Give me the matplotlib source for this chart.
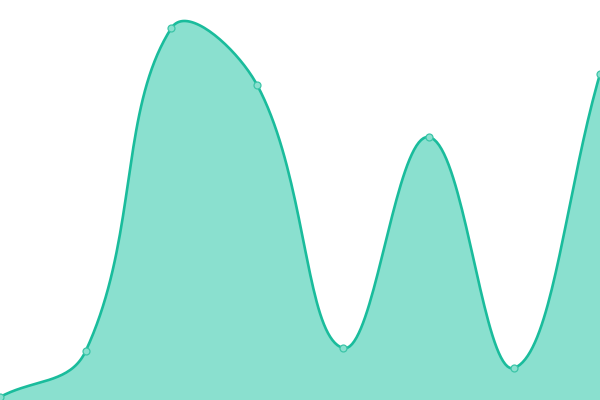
import numpy as np
import matplotlib
matplotlib.use("Agg")
import matplotlib.pyplot as plt

# -----------------------------------------------------------
#   Dados
# -----------------------------------------------------------
categorias = [0, 1, 2, 3, 4, 5, 6, 7]
valores = [3, 49, 372, 315, 52, 263, 32, 326]

LINHA = "#1abc9c"
AREA = "#8ae0cf"
SMOOTH = 0.4

W, H = 600, 400
x_max, y_max = 7, 400


def curva_suave(xs, ys, smooth, n=40):
    # suavizacao tipo echarts (bezier com controle proporcional aos segmentos)
    # feita em pixels para as distancias fazerem sentido
    px = np.array(xs, float) * W / x_max
    py = np.array(ys, float) * H / y_max
    m = len(px)
    cp_out, cp_in = [], []
    for i in range(m):
        ip = max(i - 1, 0)
        inx = min(i + 1, m - 1)
        vx, vy = px[inx] - px[ip], py[inx] - py[ip]
        d0 = np.hypot(px[i] - px[ip], py[i] - py[ip])
        d1 = np.hypot(px[inx] - px[i], py[inx] - py[i])
        r = d1 / (d0 + d1) if d0 + d1 > 0 else 0.5
        cp_out.append((px[i] + vx * smooth * r, py[i] + vy * smooth * r))
        cp_in.append((px[i] - vx * smooth * (1 - r), py[i] - vy * smooth * (1 - r)))
    t = np.linspace(0, 1, n)
    cx, cy = [], []
    for i in range(m - 1):
        p0 = (px[i], py[i])
        c1 = cp_out[i]
        c2 = cp_in[i + 1]
        p3 = (px[i + 1], py[i + 1])
        bx = (1 - t) ** 3 * p0[0] + 3 * (1 - t) ** 2 * t * c1[0] + 3 * (1 - t) * t ** 2 * c2[0] + t ** 3 * p3[0]
        by = (1 - t) ** 3 * p0[1] + 3 * (1 - t) ** 2 * t * c1[1] + 3 * (1 - t) * t ** 2 * c2[1] + t ** 3 * p3[1]
        cx.extend(bx if i == 0 else bx[1:])
        cy.extend(by if i == 0 else by[1:])
    return np.array(cx) * x_max / W, np.array(cy) * y_max / H


cx, cy = curva_suave(categorias, valores, SMOOTH)

fig = plt.figure(figsize=(6, 4), dpi=100)
ax = fig.add_axes([0, 0, 1, 1])

ax.fill_between(cx, cy, 0, color=AREA, linewidth=0, zorder=1)
ax.plot(cx, cy, color=LINHA, linewidth=1.9, solid_capstyle="round", zorder=2)
ax.plot(categorias, valores, "o", markersize=5, markerfacecolor=AREA,
        markeredgecolor="#3cc5a8", markeredgewidth=0.9, zorder=3, clip_on=True)

ax.set_xlim(0, x_max)
ax.set_ylim(0, y_max)
ax.axis("off")

fig.savefig("out.png", dpi=100)
